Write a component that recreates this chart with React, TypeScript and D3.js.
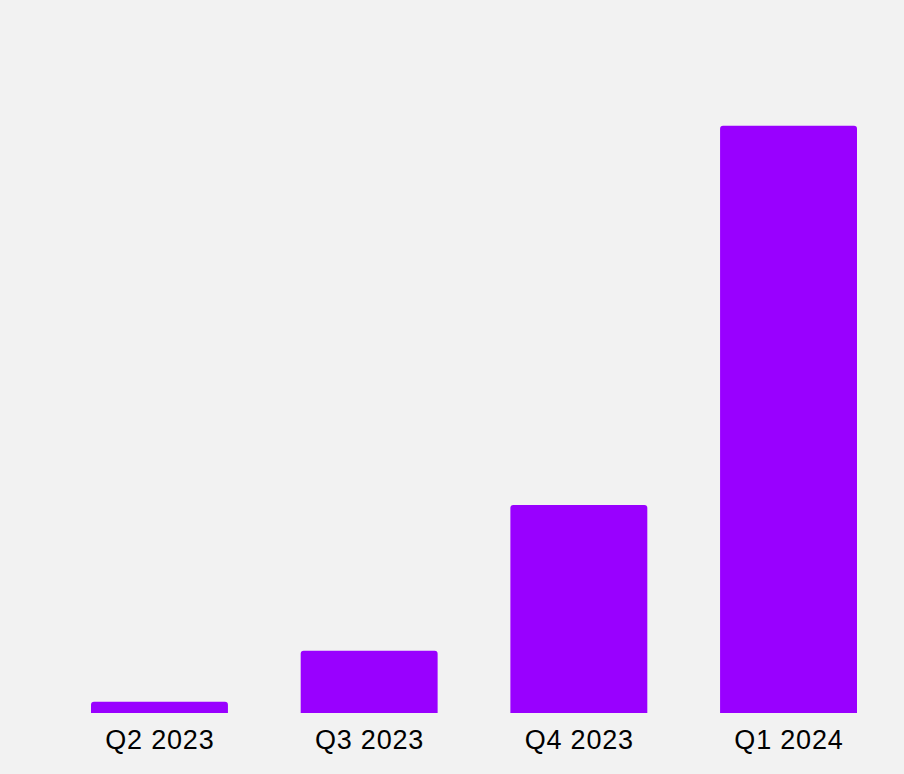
import { useEffect } from 'react';
import * as d3 from 'd3';

const WIDTH = 904;
const HEIGHT = 774;

const quarters = ['Q2 2023', 'Q3 2023', 'Q4 2023', 'Q1 2024'];
const values = [1.9, 10.6, 35.4, 100];

const BAR_COLOR = '#9900ff';
const BG = '#f2f2f2';

function topRoundedBar(x: number, y: number, w: number, h: number, r: number): string {
  const rr = Math.min(r, h / 2, w / 2);
  return `M${x},${y + h}V${y + rr}Q${x},${y} ${x + rr},${y}H${x + w - rr}Q${x + w},${y} ${x + w},${y + rr}V${y + h}Z`;
}

export default function App() {
  useEffect(() => {
    document.body.style.margin = '0';
  }, []);

  const xScale = d3.scaleBand<string>().domain(quarters).range([91, 857]).paddingInner(0.347).paddingOuter(0);
  const yScale = d3.scaleLinear().domain([0, 100]).range([713, 125.7]);

  return (
    <svg width={WIDTH} height={HEIGHT} style={{ display: 'block', background: BG }}>
      <rect width={WIDTH} height={HEIGHT} fill={BG} />
      {quarters.map((q, i) => {
        const x = xScale(q) ?? 0;
        const y = yScale(values[i]);
        return (
          <path
            key={q}
            d={topRoundedBar(x, y, xScale.bandwidth(), yScale(0) - y, 3)}
            fill={BAR_COLOR}
          />
        );
      })}
      {quarters.map((q) => (
        <text
          key={q}
          x={(xScale(q) ?? 0) + xScale.bandwidth() / 2 + 0.4}
          y={748.5}
          textAnchor="middle"
          fontFamily="'Liberation Sans', Arial, sans-serif"
          fontSize={27}
          letterSpacing={0.8}
          fill="#000"
        >
          {q}
        </text>
      ))}
    </svg>
  );
}
